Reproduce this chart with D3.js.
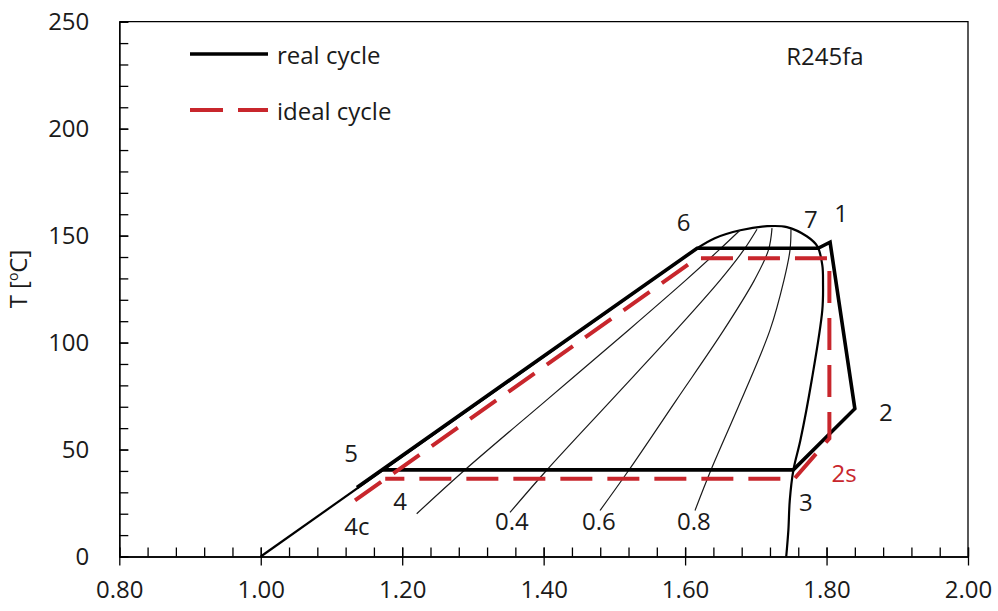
<!DOCTYPE html>
<meta charset="utf-8">
<style>
    body { margin: 0; background: #fff; }
    svg { font-family: "Open Sans", sans-serif; }
    .axis text { font-size: 24px; fill: #1a1a1a; font-family: "Open Sans", sans-serif; }
    .axis path, .axis line { stroke: #000; stroke-width: 1.3px; }
    .lbl { font-size: 24px; fill: #1a1a1a; }
    .sat { fill: none; stroke: #000; stroke-width: 2.2px; }
    .qual { fill: none; stroke: #1a1a1a; stroke-width: 1.2px; }
    .real { fill: none; stroke: #000; stroke-width: 3.6px; stroke-linejoin: miter; }
    .ideal { fill: none; stroke: #c8262c; stroke-width: 4px; stroke-dasharray: 32 15; }
</style>
<svg width="998" height="611"></svg>
<script src="https://cdn.jsdelivr.net/npm/d3@7"></script>
<script>

    // axis ticks
    const xTicks = [0.80, 1.00, 1.20, 1.40, 1.60, 1.80, 2.00];
    const yTicks = [0, 50, 100, 150, 200, 250];

    // saturation curve (s, T)
    const satLiquid = [[1.000, 0], [1.617, 144.1]];
    const satDome = [[1.617, 144.1], [1.642, 148.8], [1.678, 152.5], [1.716, 154.4], [1.744, 154.0],
        [1.772, 149.7], [1.787, 145.0], [1.794, 136.2], [1.795, 127.8], [1.794, 115.2],
        [1.779, 82.4], [1.763, 54.3], [1.753, 40.2], [1.748, 26.2], [1.746, 12.2], [1.743, 0]];

    // constant quality lines
    const q02 = [[1.2205, 20.0], [1.2877, 40.2], [1.4037, 73.0], [1.5198, 105.8], [1.6011, 129.2], [1.6477, 143.2], [1.6776, 152.5]];
    const q04 = [[1.3524, 20.6], [1.4039, 40.2], [1.4955, 73.0], [1.5871, 105.8], [1.6496, 129.2], [1.6827, 143.2], [1.7017, 153.0]];
    const q06 = [[1.4797, 21.5], [1.5201, 40.2], [1.5874, 73.0], [1.6546, 105.8], [1.6980, 129.2], [1.7178, 143.2], [1.7229, 153.5]];
    const q08 = [[1.6140, 21.5], [1.6363, 40.2], [1.6792, 73.0], [1.7200, 105.8], [1.7398, 129.2], [1.7483, 143.2], [1.7497, 153.0]];

    // cycles: 5-6-7-1-2-3-4 and 4c-..-1s-2s-3-4
    const realCycle = [[1.136, 32.3], [1.617, 144.1], [1.788, 144.1], [1.805, 146.9], [1.840, 69.1], [1.753, 40.5], [1.172, 40.5]];
    const idealCycle = [[1.1333, 26.2], [1.6168, 139.4], [1.804, 139.4], [1.804, 55.2], [1.7544, 36.3], [1.176, 36.3]];

    // point labels
    const pointNames = ["6", "7", "1", "2", "2s", "3", "5", "4", "4c", "0.4", "0.6", "0.8", "R245fa"];
    const pointAt = [[1.598, 156.4], [1.778, 158.2], [1.8205, 160.6], [1.884, 68.0], [1.8247, 39.5], [1.7709, 25.5],
        [1.1277, 48.4], [1.1969, 26.4], [1.136, 14.7], [1.3552, 16.6], [1.478, 16.6], [1.6125, 16.6], [1.7977, 234.4]];

    const svg = d3.select("svg");

    const x = d3.scaleLinear().domain([0.8, 2.0]).range([119.3, 968]);
    const y = d3.scaleLinear().domain([0, 250]).range([556.5, 21.7]);

    // minor ticks (inside)
    svg.append("g").attr("class", "axis")
        .attr("transform", "translate(0," + y(0) + ")")
        .call(d3.axisBottom(x).tickValues(d3.range(0.8, 2.0001, 0.04)).tickSize(-9).tickSizeOuter(0).tickFormat(""));
    svg.append("g").attr("class", "axis")
        .attr("transform", "translate(" + x(0.8) + ",0)")
        .call(d3.axisLeft(y).tickValues(d3.range(0, 251, 10)).tickSize(-9).tickSizeOuter(0).tickFormat(""));

    // major ticks (cross)
    const xAxis = svg.append("g").attr("class", "axis")
        .attr("transform", "translate(0," + y(0) + ")")
        .call(d3.axisBottom(x).tickValues(xTicks).tickSize(9).tickSizeOuter(0).tickPadding(10).tickFormat(d3.format(".2f")));
    xAxis.selectAll(".tick line").attr("y1", -9);
    xAxis.selectAll(".tick text").attr("dy", "0.95em");

    const yAxis = svg.append("g").attr("class", "axis")
        .attr("transform", "translate(" + x(0.8) + ",0)")
        .call(d3.axisLeft(y).tickValues(yTicks).tickSize(9).tickSizeOuter(0).tickPadding(21));
    yAxis.selectAll(".tick line").attr("x2", 9);

    // plot border top / right
    svg.append("path")
        .attr("d", "M" + x(0.8) + "," + y(250) + "H" + x(2.0) + "V" + y(0))
        .attr("fill", "none").attr("stroke", "#000").attr("stroke-width", 1.3);

    const lineLin = d3.line().x(d => x(d[0])).y(d => y(d[1]));
    const lineSmooth = d3.line().x(d => x(d[0])).y(d => y(d[1])).curve(d3.curveCatmullRom.alpha(0.5));

    svg.append("path").attr("class", "sat").attr("d", lineLin(satLiquid));
    svg.append("path").attr("class", "sat").attr("d", lineSmooth(satDome));

    [q02, q04, q06, q08].forEach(function(q) {
        svg.append("path").attr("class", "qual").attr("d", lineSmooth(q));
    });

    svg.append("path").attr("class", "real").attr("d", lineLin(realCycle));
    svg.append("path").attr("class", "ideal").attr("d", lineLin(idealCycle));

    // labels
    svg.selectAll(".lbl.pt")
        .data(pointNames)
        .enter().append("text")
        .attr("class", "lbl pt")
        .attr("x", (d, i) => x(pointAt[i][0]))
        .attr("y", (d, i) => y(pointAt[i][1]))
        .attr("text-anchor", "middle")
        .attr("dominant-baseline", "central")
        .style("fill", d => d === "2s" ? "#c8262c" : "#1a1a1a")
        .text(d => d);

    // legend
    svg.append("line").attr("x1", 190).attr("x2", 268).attr("y1", 54).attr("y2", 54)
        .attr("stroke", "#000").attr("stroke-width", 3.6);
    svg.append("line").attr("x1", 190).attr("x2", 268).attr("y1", 110).attr("y2", 110)
        .attr("stroke", "#c8262c").attr("stroke-width", 4).attr("stroke-dasharray", "33 15");
    svg.append("text").attr("class", "lbl").attr("x", 277).attr("y", 54)
        .attr("dominant-baseline", "central").text("real cycle");
    svg.append("text").attr("class", "lbl").attr("x", 277).attr("y", 110)
        .attr("dominant-baseline", "central").text("ideal cycle");

    // y title
    const yt = svg.append("text").attr("class", "lbl")
        .attr("transform", "translate(27,279) rotate(-90)")
        .attr("text-anchor", "middle");
    yt.append("tspan").text("T [");
    yt.append("tspan").attr("font-size", "14px").attr("dy", "-9").text("o");
    yt.append("tspan").attr("dy", "9").text("C]");

</script>
